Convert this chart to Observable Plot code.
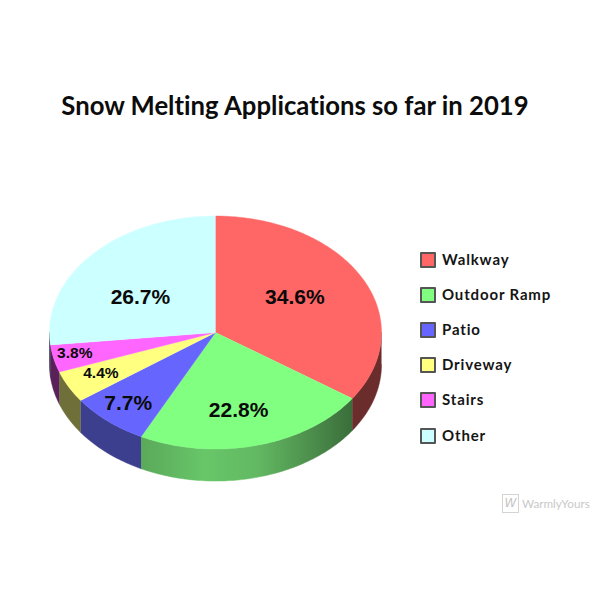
<!DOCTYPE html>
<html>
<head>
<meta charset="utf-8">
<script src="https://cdn.jsdelivr.net/npm/d3@7"></script>
<script src="https://cdn.jsdelivr.net/npm/@observablehq/plot@0.6"></script>
<style>
html,body{margin:0;padding:0;background:#fff;width:600px;height:600px;overflow:hidden}
#wrap{position:relative;width:600px;height:600px}
#wrap svg{position:absolute;left:0;top:0}
#title{position:absolute;left:-5px;top:88px;width:600px;text-align:center;font:700 25.7px/34px Lato,sans-serif;font-variant-ligatures:none;color:#0c0c0c;white-space:nowrap}
.item{position:absolute;left:420px;display:flex;align-items:center;height:16px;font:700 15px/16px Lato,sans-serif;color:#151515;letter-spacing:.85px;white-space:nowrap}
.item span.t{position:relative;top:-1px}
.sw{box-sizing:border-box;width:16px;height:16px;border:2px solid #555;border-radius:1px;margin-right:6px;flex:none}
#brand{position:absolute;left:502px;top:493px;display:flex;align-items:center;color:#c9c9c9;font:400 11.7px/20px Lato,sans-serif;white-space:nowrap}
#brand b{box-sizing:border-box;display:block;width:17px;height:19px;border:1px solid #d4d4d4;margin-right:3px;font:italic 400 12px/17px "DejaVu Sans",sans-serif;text-align:center;color:#c4c4c4}
</style>
</head>
<body>
<div id="wrap">
<div id="title">Snow Melting Applications so far in 2019</div>
<div id="brand"><b>W</b><span>WarmlyYours</span></div>
</div>
<script>
const categories = ["Walkway","Outdoor Ramp","Patio","Driveway","Stairs","Other"];
const shares = [34.6,22.8,7.7,4.4,3.8,26.7];
const shareLabels = ["34.6%","22.8%","7.7%","4.4%","3.8%","26.7%"];
const topColors = ["#ff6666","#80ff80","#6666ff","#ffff80","#ff66ff","#ccffff"];
const sideColors = ["#6b2c2c","url(#rampWall)","#3c3e8e","#6f6f39","#5a205a","#2c2c40"];
// green wall gradient, left to right across the pie
const rampStopOffsets = [0,.3,.55,.8,1];
const rampStopColors = ["#5aa95a","#68c668","#62b962","#4d8f4d","#3a6d3a"];
const labelRadialX = [.54,.558,.81,.78,.87,.608];
const labelRadialY = [.645,.69,.80,.757,.80,.449];
const labelSizes = [21,21,21,15.5,15.5,21];

const legendTops = [252,287,322,357,392,428];

const rad = d => d * Math.PI / 180;
const depth = 0.275;
let acc = 0;
const slices = categories.map((name,i) => {
  const a0 = acc / 100 * 360; acc += shares[i];
  return {name, i, a0, a1: acc / 100 * 360};
});
const px = a => Math.sin(rad(a));
const py = a => Math.cos(rad(a));

const topPts = [];
for (const s of slices) {
  topPts.push({id:s.i,x:0,y:0,c:topColors[s.i]});
  const n = Math.ceil(s.a1 - s.a0);
  for (let k=0;k<=n;k++){
    const a = s.a0 + (s.a1-s.a0)*k/n;
    topPts.push({id:s.i,x:px(a),y:py(a),c:topColors[s.i]});
  }
}
const wallPts = [];
for (const s of slices) {
  const from = Math.max(s.a0,90), to = Math.min(s.a1,270);
  if (to <= from) continue;
  const m = Math.ceil(to-from);
  const upper = d3.range(m+1).map(j => from+(to-from)*j/m);
  for (const t of upper) wallPts.push({id:s.i,x:px(t),y:py(t),c:sideColors[s.i]});
  for (const t of upper.slice().reverse()) wallPts.push({id:s.i,x:px(t),y:py(t)-depth,c:sideColors[s.i]});
}
const labels = slices.map(s => {
  const mid = (s.a0+s.a1)/2;
  return {x:px(mid)*labelRadialX[s.i], y:py(mid)*labelRadialY[s.i], t:shareLabels[s.i], size:labelSizes[s.i]};
});
const poly = (data,sw) => Plot.line(data,{x:"x",y:"y",z:"id",fill:"c",stroke:"c",strokeWidth:sw,curve:"linear"});
const textMark = size => Plot.text(labels.filter(d=>d.size===size),{x:"x",y:"y",text:"t",fontSize:size,fontWeight:700,fontFamily:"Liberation Sans",fill:"#0a0a0a"});
const chart = Plot.plot({
  width:600,height:600,margin:0,
  style:{background:"transparent"},
  x:{axis:null,domain:[-1,1],range:[49,381]},
  y:{axis:null,domain:[-1,1],range:[448.5,215.5]},
  color:{type:"identity"},
  marks:[
    poly(wallPts,.5),
    poly(topPts,.4),
    textMark(21),
    textMark(15.5)
  ]
});
// gradient for the green wall, spanning that wall's horizontal extent
const xs = chart.scale("x");
const ramp = slices[1];
const ns = "http://www.w3.org/2000/svg";
const defs = document.createElementNS(ns,"defs");
const grad = document.createElementNS(ns,"linearGradient");
grad.setAttribute("id","rampWall");
grad.setAttribute("gradientUnits","userSpaceOnUse");
grad.setAttribute("x1",xs.apply(px(ramp.a1))); grad.setAttribute("x2",xs.apply(px(ramp.a0)));
grad.setAttribute("y1",0); grad.setAttribute("y2",0);
rampStopOffsets.forEach((o,i)=>{
  const st = document.createElementNS(ns,"stop");
  st.setAttribute("offset",o); st.setAttribute("stop-color",rampStopColors[i]);
  grad.append(st);
});
defs.append(grad); chart.prepend(defs);

const wrap = document.getElementById("wrap");
wrap.insertBefore(chart, wrap.firstChild);
categories.forEach((name,i)=>{
  const it = document.createElement("div");
  it.className = "item"; it.style.top = legendTops[i]+"px";
  const sw = document.createElement("span"); sw.className="sw"; sw.style.background = topColors[i];
  const t = document.createElement("span"); t.className="t"; t.textContent = name;
  it.append(sw, t);
  wrap.append(it);
});
</script>
</body>
</html>
